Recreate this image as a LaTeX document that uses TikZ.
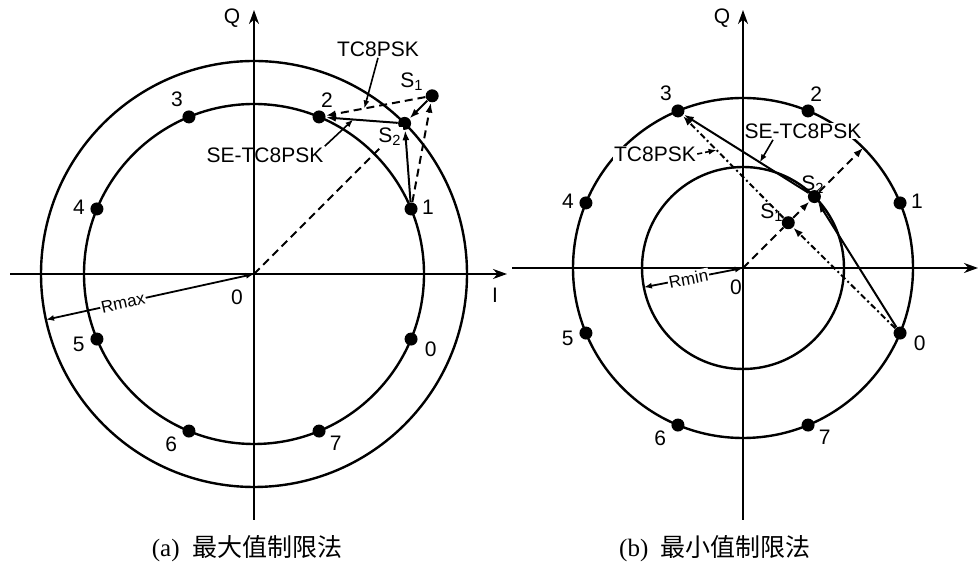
\documentclass[tikz,border=0pt]{standalone}
\usepackage{fontspec}
\setmainfont{Liberation Serif}
\setsansfont{Liberation Sans}
\newfontfamily\cjk{Noto Sans CJK SC}
\usetikzlibrary{arrows.meta,calc}

\begin{document}
\begin{tikzpicture}[
    x=0.5pt, y=0.5pt,
    ring/.style={line width=1.2pt},
    axis/.style={line width=1pt, -{Stealth[length=7pt,width=5pt]}},
    dot/.style={circle, fill=black, inner sep=0pt, minimum size=6.5pt},
    lbl/.style={font=\sffamily\fontsize{10.5}{12}\selectfont, inner sep=0.5pt},
    wlbl/.style={lbl, fill=white},
    rlbl/.style={font=\sffamily\fontsize{8.5}{10}\selectfont, fill=white, inner sep=0.5pt, sloped},
    proj/.style={line width=1pt, dash pattern=on 4pt off 2.5pt},
    vec/.style={line width=1pt, -{Latex[length=5pt,width=3.5pt]}},
    dvec/.style={vec, dash pattern=on 4pt off 2.5pt},
    ddvec/.style={vec, dash pattern=on 3pt off 1.5pt on 1pt off 1.5pt},
    ptr/.style={line width=0.8pt, -{Latex[length=4pt,width=3pt]}},
    dptr/.style={ptr, dash pattern=on 2.5pt off 1.5pt},
    radius arrow/.style={line width=0.9pt, {Latex[length=4pt,width=3pt]}-{Latex[length=4pt,width=3pt]}},
    captext/.style={font=\fontsize{12.5}{14}\selectfont, inner sep=0pt}
]
\useasboundingbox (0,0) rectangle (980,572);

% ---------------- (a) maximum value limit ----------------
\begin{scope}[shift={(254,298)}]
% axes
\coordinate (aC) at (0,0);
\coordinate (aW) at (-244,0);
\coordinate (aE) at (253,0);
\coordinate (aS) at (0,-246);
\coordinate (aN) at (0,264);
\draw[axis] (aW) -- (aE);
\draw[axis] (aS) -- (aN);
\node[lbl] (aQ) at (-22,256) {Q};
\node[lbl] (aI) at (241,-21) {I};
\node[lbl] (aO) at (-17,-23) {0};

% circles
\draw[ring] (aC) circle[radius=170];
\draw[ring] (aC) circle[radius=213];

% 8PSK signal points
\foreach \k/\la/\ld in {0/-27/22, 1/7/17, 2/65/19, 3/125/21, 4/174/18, 5/196/19, 6/216/22, 7/-37/21} {
    \node[dot] (a\k) at ({-22.5+45*\k}:170) {};
    \node[lbl] (al\k) at ($(a\k)+(\la:\ld)$) {\k};
}

% S1 outside, S2 on the Rmax circle
\node[dot] (aS1) at (45:252) {};
\node[dot] (aS2) at (45:213) {};
\draw[proj] (aC) -- (aS2);
\node[lbl] (alS1) at (158,192) {S\textsubscript{1}};
\node[wlbl] (alS2) at (136,137) {S\textsubscript{2}};

% transitions
\draw[vec] (a1) -- (aS2);
\draw[dvec] (a1) -- (aS1);
\draw[vec] (aS1) -- (aS2);
\draw[dvec] (aS1) -- (a2);
\draw[vec] (aS2) -- (a2);

% Rmax
\coordinate (aR) at (192.4:213);
\draw[radius arrow] (aC) -- node[rlbl, pos=0.63] {Rmax} (aR);

% callouts
\node[lbl] (aTC) at (124,225) {TC8PSK};
\draw[ptr] (aTC.south) -- ($(aS1)!0.6!(a2)$);
\node[lbl] (aSE) at (11,119) {SE-TC8PSK};
\draw[ptr] (aSE.north east) -- ($(aS2)!0.6!(a2)$);
\end{scope}

% ---------------- (b) minimum value limit ----------------
\begin{scope}[shift={(743,304)}]
% axes
\coordinate (bC) at (0,0);
\coordinate (bW) at (-231,0);
\coordinate (bE) at (235,0);
\coordinate (bS) at (0,-252);
\coordinate (bN) at (0,258);
\draw[axis] (bW) -- (bE);
\draw[axis] (bS) -- (bN);
\node[lbl] (bQ) at (-21,250) {Q};
\node[lbl] (bO) at (-7,-19) {0};

% circles
\draw[ring] (bC) circle[radius=170];
\draw[ring] (bC) circle[radius=101];

% 8PSK signal points
\foreach \k/\la/\ld in {0/-27/22, 1/7/17, 2/65/19, 3/125/21, 4/174/18, 5/196/19, 6/216/22, 7/-37/21} {
    \node[dot] (b\k) at ({-22.5+45*\k}:170) {};
    \node[lbl] (bl\k) at ($(b\k)+(\la:\ld)$) {\k};
}

% S1 inside, S2 on the Rmin circle
\node[dot] (bS1) at (45:64) {};
\node[dot] (bS2) at (45:101) {};
\coordinate (bR45) at (45:170);
\draw[proj] (bC) -- (bS1);
\draw[dvec] (bS1) -- (bS2);
\draw[dvec] (bS2) -- (bR45);
\node[lbl] (blS1) at (29,55) {S\textsubscript{1}};
\node[lbl] (blS2) at (70,83) {S\textsubscript{2}};

% transitions
\draw[vec] (b0) -- (bS2);
\draw[vec] (bS2) -- (b3);
\draw[ddvec] (b0) -- (bS1);
\draw[ddvec] (bS1) -- (b3);

% Rmin
\coordinate (bR) at (191:101);
\draw[radius arrow] (bC) -- node[rlbl, pos=0.55] {Rmin} (bR);

% callouts
\node[wlbl] (bTC) at (-88,114) {TC8PSK};
\draw[dptr] (bTC.east) -- ($(bS1)!0.65!(b3)$);
\node[wlbl] (bSE) at (60,137) {SE-TC8PSK};
\draw[ptr] ([xshift=-15pt]bSE.south) -- ($(bS2)!0.4!(b3)$);
\end{scope}

% captions
\node[captext] (capA) at (247,23) {(a)~~{\cjk 最大值制限法}};
\node[captext] (capB) at (715,23) {(b)~~{\cjk 最小值制限法}};
\end{tikzpicture}
\end{document}
